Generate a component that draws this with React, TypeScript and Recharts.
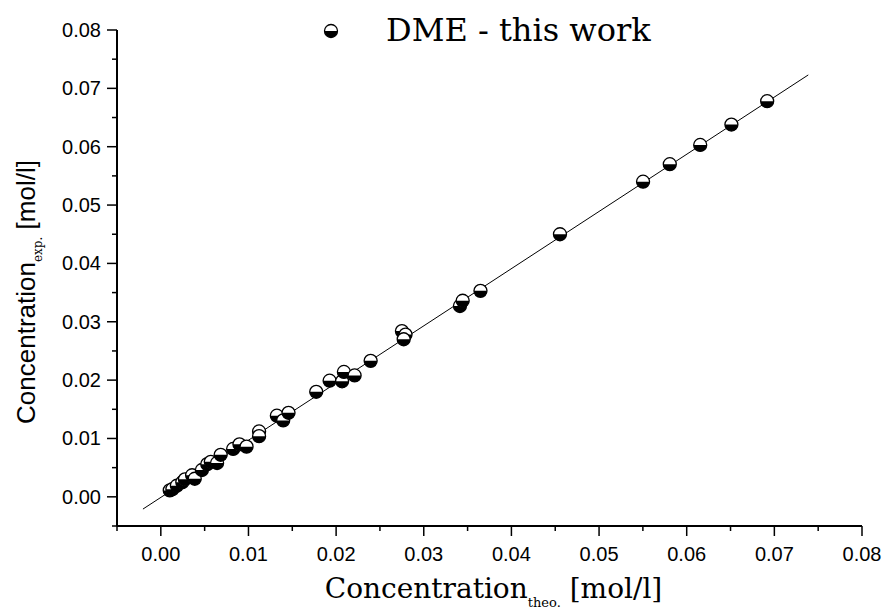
import { ScatterChart, Scatter, XAxis, YAxis } from "recharts";

// measured points, DME
const concTheo = [
  0.00102, 0.00132, 0.00183, 0.00245, 0.00275, 0.00357, 0.00387, 0.00469, 0.0053, 0.0057,
  0.00642, 0.00683, 0.00825, 0.00897, 0.00978, 0.01121, 0.01121, 0.01324, 0.01396, 0.01457,
  0.01773, 0.01926, 0.02068, 0.02089, 0.02211, 0.02394, 0.02751, 0.02792, 0.02771, 0.03413,
  0.03444, 0.03647, 0.04554, 0.05502, 0.05807, 0.06154, 0.0651, 0.06918,
];
const concExp = [
  0.0011, 0.0013, 0.0019, 0.0025, 0.003, 0.0037, 0.0031, 0.0046, 0.0056, 0.006,
  0.0058, 0.0072, 0.0082, 0.009, 0.0086, 0.0112, 0.0104, 0.0139, 0.0131, 0.0144,
  0.018, 0.0199, 0.0198, 0.0214, 0.0208, 0.0233, 0.0284, 0.0278, 0.027, 0.0327,
  0.0336, 0.0353, 0.045, 0.054, 0.057, 0.0603, 0.0638, 0.0678,
];

// fitted line ends
const fitTheo = [-0.00204, 0.07387];
const fitExp = [-0.0021, 0.0723];

const axisTicks = [
  -0.005, 0, 0.005, 0.01, 0.015, 0.02, 0.025, 0.03, 0.035, 0.04, 0.045, 0.05,
  0.055, 0.06, 0.065, 0.07, 0.075, 0.08,
];

const points = concTheo.map((x, i) => ({ x, y: concExp[i] }));
const fitLine = fitTheo.map((x, i) => ({ x, y: fitExp[i] }));

const isMajor = (v: number) => Math.round(v * 1000) % 10 === 0;

const SERIF = "'DejaVu Serif', serif";
const SANS = "'Liberation Sans', Arial, sans-serif";

function HalfBall({ cx, cy }: { cx?: number; cy?: number }) {
  if (cx == null || cy == null) return null;
  const r = 6.5;
  return (
    <g>
      <circle cx={cx} cy={cy} r={r} fill="#fff" stroke="#000" strokeWidth={1.3} />
      <path d={`M${cx - r},${cy} A${r},${r} 0 0 0 ${cx + r},${cy} Z`} fill="#000" />
    </g>
  );
}

function XTick(props: any) {
  const { x, y, payload } = props;
  const major = isMajor(payload.value);
  return (
    <g>
      <line x1={x} x2={x} y1={y} y2={y + (major ? 10 : 5)} stroke="#000" strokeWidth={1.5} />
      {major && (
        <text
          x={x}
          y={y + 35}
          textAnchor="middle"
          fontFamily="'Liberation Sans Narrow', 'Liberation Sans', sans-serif"
          fontSize={20}
          fill="#000"
        >
          {payload.value.toFixed(2)}
        </text>
      )}
    </g>
  );
}

function YTick(props: any) {
  const { x, y, payload } = props;
  const major = isMajor(payload.value);
  return (
    <g>
      <line x1={x} x2={x - (major ? 10 : 5)} y1={y} y2={y} stroke="#000" strokeWidth={1.5} />
      {major && (
        <text x={x - 16} y={y + 7} textAnchor="end" fontFamily={SANS} fontSize={20} fill="#000">
          {payload.value.toFixed(2)}
        </text>
      )}
    </g>
  );
}

function XLabel(props: any) {
  const { viewBox } = props;
  const cx = viewBox.x + viewBox.width / 2 + 4;
  return (
    <text x={cx} y={viewBox.y + 72} textAnchor="middle" fontFamily={SERIF} fontSize={28} fill="#000">
      Concentration
      <tspan fontSize={13} dy={9}>theo.</tspan>
      <tspan dy={-9}>{"  [mol/l]"}</tspan>
    </text>
  );
}

function YLabel() {
  return (
    <text
      x={35}
      y={292}
      transform="rotate(-90 35 292)"
      textAnchor="middle"
      fontFamily={SANS}
      fontSize={26}
      fill="#000"
    >
      Concentration
      <tspan fontFamily={SERIF} fontSize={12} dy={7}>exp.</tspan>
      <tspan dy={-7}>{"  [mol/l]"}</tspan>
    </text>
  );
}

export default function App() {
  return (
    <div style={{ position: "absolute", left: 0, top: 0, width: 895, height: 616, background: "#fff" }}>
      <ScatterChart width={895} height={616} margin={{ top: 30, right: 33, bottom: 0, left: 0 }}>
        <XAxis
          type="number"
          dataKey="x"
          domain={[-0.005, 0.08]}
          ticks={axisTicks}
          interval={0}
          tickLine={false}
          tickSize={0}
          tickMargin={0}
          height={90}
          axisLine={{ stroke: "#000", strokeWidth: 2 }}
          tick={<XTick />}
          label={{ content: <XLabel /> }}
          allowDataOverflow
        />
        <YAxis
          type="number"
          dataKey="y"
          domain={[-0.005, 0.08]}
          ticks={axisTicks}
          interval={0}
          tickLine={false}
          tickSize={0}
          tickMargin={0}
          width={117}
          axisLine={{ stroke: "#000", strokeWidth: 2 }}
          tick={<YTick />}
          label={{ content: <YLabel /> }}
          allowDataOverflow
        />
        <Scatter
          data={fitLine}
          line={{ stroke: "#000", strokeWidth: 1 }}
          shape={() => <g />}
          isAnimationActive={false}
        />
        <Scatter data={points} shape={<HalfBall />} isAnimationActive={false} />
      </ScatterChart>
      <div style={{ position: "absolute", left: 0, top: 0, width: 895, height: 60, pointerEvents: "none" }}>
        <svg width={895} height={60} style={{ position: "absolute", left: 0, top: 0 }}>
          <HalfBall cx={331} cy={31} />
        </svg>
        <span
          style={{
            position: "absolute",
            left: 386,
            top: 11,
            fontFamily: SERIF,
            fontSize: 32,
            lineHeight: "38px",
            color: "#000",
            whiteSpace: "nowrap",
          }}
        >
          DME - this work
        </span>
      </div>
    </div>
  );
}
